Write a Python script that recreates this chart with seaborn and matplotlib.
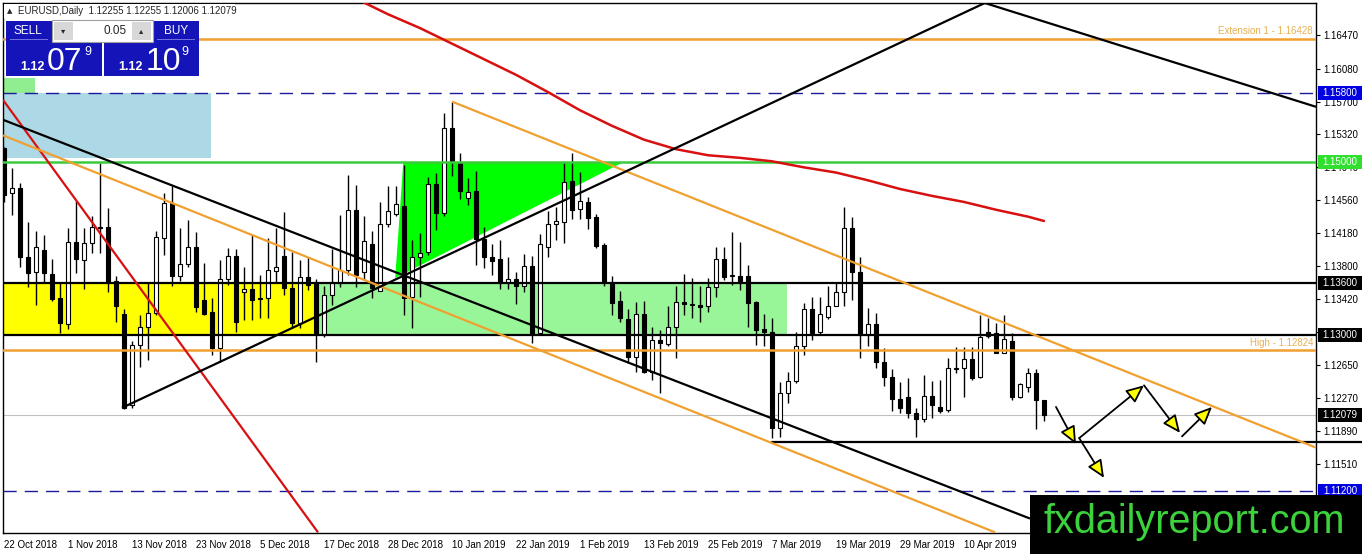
import matplotlib
matplotlib.use("Agg")
import matplotlib.pyplot as plt
from matplotlib.patches import Rectangle, Polygon
from matplotlib import transforms
import seaborn as sns
import pandas as pd

sns.set_style("white")
plt.rcParams['font.family'] = ['Liberation Sans', 'DejaVu Sans']

# --- daily EURUSD candles (22 Oct 2018 .. 24 Apr 2019) ---
opens = [1.1516, 1.1464, 1.1470, 1.1390, 1.1373, 1.1399, 1.1371, 1.1343, 1.1313, 1.1408,
         1.1387, 1.1407, 1.1425, 1.1425, 1.1363, 1.1325, 1.1219, 1.1289, 1.1310, 1.1326,
         1.1412, 1.1453, 1.1368, 1.1382, 1.1402, 1.1341, 1.1327, 1.1285, 1.1365, 1.1392,
         1.1350, 1.1353, 1.1343, 1.1343, 1.1374, 1.1392, 1.1355, 1.1314, 1.1367, 1.1360,
         1.1300, 1.1346, 1.1360, 1.1375, 1.1445, 1.1373, 1.1405, 1.1351, 1.1429, 1.1440,
         1.1449, 1.1344, 1.1390, 1.1396, 1.1475, 1.1441, 1.1540, 1.1500, 1.1459, 1.1467,
         1.1411, 1.1390, 1.1388, 1.1360, 1.1365, 1.1357, 1.1380, 1.1303, 1.1402, 1.1429,
         1.1431, 1.1478, 1.1446, 1.1454, 1.1437, 1.1404, 1.1360, 1.1340, 1.1319, 1.1275,
         1.1325, 1.1257, 1.1294, 1.1290, 1.1310, 1.1338, 1.1335, 1.1335, 1.1334, 1.1356,
         1.1388, 1.1368, 1.1368, 1.1368, 1.1338, 1.1307, 1.1304, 1.1193, 1.1233, 1.1247,
         1.1288, 1.1330, 1.1304, 1.1321, 1.1334, 1.1350, 1.1424, 1.1373, 1.1300, 1.1313,
         1.1269, 1.1252, 1.1226, 1.1228, 1.1210, 1.1203, 1.1230, 1.1217, 1.1213, 1.1261,
         1.1262, 1.1272, 1.1252, 1.1304, 1.1303, 1.1279, 1.1293, 1.1228, 1.1240, 1.1256,
         1.12255]
highs = [1.1518, 1.1493, 1.1476, 1.1431, 1.1420, 1.1416, 1.1388, 1.1360, 1.1424, 1.1455,
         1.1424, 1.1438, 1.1499, 1.1447, 1.1368, 1.1330, 1.1293, 1.1323, 1.1362, 1.1420,
         1.1464, 1.1472, 1.1424, 1.1433, 1.1419, 1.1383, 1.1343, 1.1387, 1.1401, 1.1400,
         1.1379, 1.1416, 1.1370, 1.1412, 1.1424, 1.1442, 1.1396, 1.1387, 1.1390, 1.1365,
         1.1357, 1.1400, 1.1439, 1.1485, 1.1474, 1.1438, 1.1420, 1.1454, 1.1472, 1.1472,
         1.1497, 1.1410, 1.1418, 1.1483, 1.1488, 1.1557, 1.1570, 1.1511, 1.1482, 1.1490,
         1.1425, 1.1405, 1.1410, 1.1390, 1.1373, 1.1394, 1.1392, 1.1417, 1.1444, 1.1448,
         1.1500, 1.1511, 1.1489, 1.1460, 1.1440, 1.1407, 1.1368, 1.1351, 1.1330, 1.1338,
         1.1340, 1.1310, 1.1306, 1.1334, 1.1357, 1.1371, 1.1366, 1.1357, 1.1366, 1.1402,
         1.1402, 1.1419, 1.1408, 1.1381, 1.1340, 1.1325, 1.1320, 1.1246, 1.1257, 1.1304,
         1.1337, 1.1344, 1.1344, 1.1357, 1.1360, 1.1448, 1.1437, 1.1390, 1.1331, 1.1326,
         1.1285, 1.1261, 1.1246, 1.1250, 1.1216, 1.1254, 1.1247, 1.1248, 1.1274, 1.1286,
         1.1286, 1.1286, 1.1323, 1.1320, 1.1314, 1.1323, 1.1303, 1.1245, 1.1262, 1.1261,
         1.12255]
lows = [1.1454, 1.1439, 1.1379, 1.1356, 1.1335, 1.1362, 1.1340, 1.1303, 1.1307, 1.1372,
        1.1353, 1.1395, 1.1395, 1.1350, 1.1315, 1.1215, 1.1216, 1.1263, 1.1271, 1.1323,
        1.1393, 1.1357, 1.1363, 1.1379, 1.1327, 1.1323, 1.1277, 1.1269, 1.1358, 1.1304,
        1.1318, 1.1318, 1.1320, 1.1320, 1.1362, 1.1346, 1.1308, 1.1308, 1.1352, 1.1269,
        1.1298, 1.1335, 1.1356, 1.1370, 1.1356, 1.1364, 1.1343, 1.1351, 1.1425, 1.1438,
        1.1323, 1.1308, 1.1344, 1.1393, 1.1422, 1.1438, 1.1484, 1.1457, 1.1451, 1.1381,
        1.1378, 1.1370, 1.1353, 1.1353, 1.1336, 1.1350, 1.1291, 1.1303, 1.1390, 1.1410,
        1.1407, 1.1434, 1.1434, 1.1423, 1.1401, 1.1357, 1.1323, 1.1315, 1.1268, 1.1257,
        1.1256, 1.1248, 1.1233, 1.1288, 1.1274, 1.1323, 1.1320, 1.1315, 1.1327, 1.1344,
        1.1364, 1.1358, 1.1352, 1.1310, 1.1289, 1.1288, 1.1181, 1.1182, 1.1222, 1.1245,
        1.1277, 1.1294, 1.1300, 1.1319, 1.1334, 1.1334, 1.1341, 1.1274, 1.1288, 1.1262,
        1.1241, 1.1212, 1.1210, 1.1204, 1.1182, 1.1200, 1.1204, 1.1210, 1.1211, 1.1256,
        1.1228, 1.1248, 1.1250, 1.1297, 1.1279, 1.1279, 1.1225, 1.1227, 1.1234, 1.1192,
        1.12006]
closes = [1.1462, 1.1470, 1.1390, 1.1372, 1.1402, 1.1372, 1.1342, 1.1314, 1.1408, 1.1388,
          1.1407, 1.1425, 1.1424, 1.1360, 1.1334, 1.1216, 1.1289, 1.1310, 1.1326, 1.1414,
          1.1453, 1.1368, 1.1382, 1.1402, 1.1333, 1.1325, 1.1285, 1.1365, 1.1392, 1.1315,
          1.1353, 1.1341, 1.1342, 1.1375, 1.1379, 1.1355, 1.1314, 1.1367, 1.1358, 1.1303,
          1.1346, 1.1360, 1.1375, 1.1445, 1.1370, 1.1409, 1.1355, 1.1429, 1.1444, 1.1452,
          1.1343, 1.1390, 1.1395, 1.1475, 1.1441, 1.1540, 1.1500, 1.1467, 1.1466, 1.1411,
          1.1390, 1.1386, 1.1360, 1.1365, 1.1357, 1.1380, 1.1301, 1.1405, 1.1429, 1.1432,
          1.1477, 1.1445, 1.1455, 1.1436, 1.1403, 1.1360, 1.1337, 1.1320, 1.1275, 1.1325,
          1.1257, 1.1294, 1.1291, 1.1310, 1.1338, 1.1336, 1.1336, 1.1333, 1.1356, 1.1388,
          1.1367, 1.1369, 1.1363, 1.1337, 1.1306, 1.1304, 1.1193, 1.1233, 1.1247, 1.1288,
          1.1330, 1.1303, 1.1325, 1.1334, 1.1350, 1.1424, 1.1373, 1.1300, 1.1313, 1.1269,
          1.1252, 1.1226, 1.1216, 1.1210, 1.1203, 1.1230, 1.1219, 1.1212, 1.1262, 1.1262,
          1.1272, 1.1250, 1.1298, 1.1299, 1.1279, 1.1296, 1.1228, 1.1244, 1.1256, 1.1225,
          1.12079]

dates = pd.bdate_range("2018-10-22", "2019-04-24")
dates = dates.drop([pd.Timestamp("2018-12-25"), pd.Timestamp("2019-01-01")])
bars = pd.DataFrame({"date": dates, "open": opens, "high": highs, "low": lows, "close": closes})
bars["idx"] = range(len(bars))

# moving average (red curve), read at selected bars
ma_idx = [44, 48, 52, 56, 60, 64, 68, 72, 76, 80, 84, 88, 92, 96, 100, 104, 108, 112, 116, 120, 124, 128, 130]
ma_val = [1.1689, 1.1671, 1.1655, 1.1637, 1.1619, 1.1601, 1.1581, 1.1560, 1.1542, 1.1526, 1.1515, 1.1508,
          1.1505, 1.1501, 1.1494, 1.1488, 1.1479, 1.1469, 1.1461, 1.1454, 1.1445, 1.1437, 1.1432]

# levels
ext_level = 1.16428
high_level = 1.12824
levels_black = [1.1360, 1.1300]
level_green = 1.1500
levels_navy = [1.1580, 1.1120]
bid = 1.12079
support = 1.1177

# trendlines: (x0, p0, x1, p1) in bar index / price
red_line = (-0.125, 1.1572, 39.25, 1.1072)
black_down = (-0.125, 1.1549, 128.25, 1.1088)
orange_low = (-0.125, 1.1531, 123.9, 1.1072)
orange_up = (56, 1.1570, 164, 1.1170)
black_up = (14.75, 1.1216, 122.6, 1.1684)
black_top = (122.6, 1.1684, 164, 1.1564)

# projected path arrows
arrows = [((131.5, 1.1217), (134.0, 1.1174)),
          ((134.4, 1.1181), (142.5, 1.1242)),
          ((142.5, 1.1242), (147.0, 1.1187)),
          ((147.25, 1.1183), (151.0, 1.1217)),
          ((134.4, 1.1181), (137.5, 1.1135))]

yticks = [1.16470, 1.16080, 1.15700, 1.15320, 1.14940, 1.14560, 1.14180, 1.13800,
          1.13420, 1.13040, 1.12650, 1.12270, 1.11890, 1.11510]

W, H = 1362, 554
fig = plt.figure(figsize=(W / 100, H / 100), dpi=100)
ax = fig.add_axes([3 / W, 21 / H, 1313 / W, 530 / H])
ax.set_xlim(-0.125, 164)
ax.set_ylim(1.10713, 1.16840)

orange = "#F0A030"

# zones
ax.add_patch(Rectangle((-0.125, 1.1505), 26.0, 1.1580 - 1.1505, color="#ADD8E6", zorder=1, lw=0))
ax.add_patch(Rectangle((-0.125, 1.1580), 4.0, 0.0017, color="#90EE90", zorder=1, lw=0))
ax.add_patch(Rectangle((-0.125, 1.1300), 39.4, 0.0060, color="#FFFF00", zorder=1, lw=0))
ax.add_patch(Rectangle((39.25, 1.1300), 58.65, 0.0060, color="#98F598", zorder=1, lw=0))
ax.add_patch(Polygon([(48.9, 1.1366), (49.9, 1.1499), (77.4, 1.1500)], closed=True,
                     color="#00FF00", zorder=1, lw=0))

# horizontal levels
ax.axhline(bid, color="#C0C0C0", lw=0.8, zorder=2)
for lv in levels_black:
    ax.axhline(lv, color="black", lw=1.6, zorder=4)
ax.axhline(level_green, color="#3CCB3C", lw=1.8, zorder=4)
for lv in levels_navy:
    ax.axhline(lv, color="#1A1A9A", lw=1.0, ls=(0, (9.5, 5.8)), zorder=4)
ax.axhline(ext_level, color=orange, lw=1.8, zorder=4)
ax.axhline(high_level, color=orange, lw=1.8, zorder=4)
ax.plot([96, 169.75], [support, support], color="black", lw=1.6, zorder=4, clip_on=False)

# candles
up = bars["close"] >= bars["open"]
ax.vlines(bars["idx"], bars["low"], bars["high"], color="black", lw=1.0, zorder=2.9)
body_lo = bars[["open", "close"]].min(axis=1)
body_h = (bars["close"] - bars["open"]).abs().clip(lower=0.00012)
ax.bar(bars["idx"], body_h, bottom=body_lo, width=0.62,
       color=["white" if u else "black" for u in up], edgecolor="black", lw=0.8, zorder=3)

# moving average
sns.lineplot(x=ma_idx, y=ma_val, ax=ax, color="#D81010", lw=1.8, zorder=4)

# trendlines
for (x0, p0, x1, p1), col in [(red_line, "#D81010"), (black_down, "black"), (orange_low, orange),
                              (orange_up, orange), (black_up, "black"), (black_top, "black")]:
    ax.plot([x0, x1], [p0, p1], color=col, lw=1.6, zorder=4, solid_capstyle="butt")

for start, end in arrows:
    ax.annotate("", xy=end, xytext=start, zorder=6,
                arrowprops=dict(arrowstyle="-|>,head_length=0.9,head_width=0.4", mutation_scale=12,
                                fc="#FFFF00", ec="black", lw=1.3, shrinkA=0, shrinkB=0))

# level captions
cap_t = transforms.blended_transform_factory(ax.transAxes, ax.transData)
ax.text((1313 - 3) / 1313, ext_level + 0.0003, "Extension 1 - 1.16428", transform=cap_t,
        ha="right", va="bottom", fontsize=7, color="#E6B050", zorder=5)
ax.text((1313 - 3) / 1313, high_level + 0.0003, "High - 1.12824", transform=cap_t,
        ha="right", va="bottom", fontsize=7, color="#E6B050", zorder=5)

# axes styling
ax.yaxis.tick_right()
ax.set_yticks(yticks)
ax.set_yticklabels([f"{t:.5f}" for t in yticks])
step = 8
ax.set_xticks(bars["idx"][::step][:16])
ax.set_xticklabels([f"{d.day} {d.strftime('%b %Y')}" for d in bars["date"][::step][:16]])
for lbl in ax.get_xticklabels():
    lbl.set_ha("left")
ax.tick_params(axis="both", direction="out", length=3, width=0.8, labelsize=7, pad=2, colors="black")
ax.set_xlabel("")
ax.set_ylabel("")
for sp in ax.spines.values():
    sp.set_color("black")
    sp.set_linewidth(1.0)
ax.grid(False)

# price boxes at the right
bt = transforms.blended_transform_factory(fig.transFigure, ax.transData)
box_h = 14 / 8650
for price, fc, txt in [(1.1580, "#0000E0", "1.15800"), (1.1500, "#2FE02F", "1.15000"),
                       (1.1360, "black", "1.13600"), (1.1300, "black", "1.13000"),
                       (bid, "black", "1.12079"), (1.1120, "#0000E0", "1.11200")]:
    ax.add_patch(Rectangle((1318 / W, price - box_h / 2), 44 / W, box_h, transform=bt,
                           color=fc, lw=0, clip_on=False, zorder=7))
    ax.text(1340 / W, price, txt, transform=bt, ha="center", va="center", color="white",
            fontsize=7, clip_on=False, zorder=8)


# one-click trading panel and header (figure pixels)
def px_rect(x0, y0, x1, y1, **kw):
    fig.add_artist(Rectangle((x0 / W, 1 - y1 / H), (x1 - x0) / W, (y1 - y0) / H,
                             transform=fig.transFigure, **kw))


def px_text(x, y, s, **kw):
    fig.text(x / W, 1 - y / H, s, **kw)


px_rect(4, 4, 235, 18, color="white", lw=0)
px_text(7, 11, "\u25b2", fontsize=5, va="center", family="DejaVu Sans")
px_text(18, 11, "EURUSD,Daily  1.12255 1.12255 1.12006 1.12079", fontsize=7, va="center")

blue = "#1414B8"
px_rect(6, 21, 52, 42, color=blue, lw=0)
px_rect(6, 42, 102, 76, color=blue, lw=0)
px_rect(153, 21, 199, 42, color=blue, lw=0)
px_rect(104, 42, 199, 76, color=blue, lw=0)
px_rect(10, 39, 48, 40, color="#7070E0", lw=0)
px_rect(157, 39, 195, 40, color="#7070E0", lw=0)
px_rect(52, 20, 153, 42, color="white", ec="#A0A0A0", lw=0.8)
px_rect(54, 22, 73, 40, color="#D8D8D8", lw=0)
px_rect(132, 22, 151, 40, color="#D8D8D8", lw=0)
px_text(63, 31, "\u25be", fontsize=6, ha="center", va="center", family="DejaVu Sans")
px_text(141, 31, "\u25b4", fontsize=6, ha="center", va="center", family="DejaVu Sans")
px_text(127, 31, "0.05", fontsize=8.5, ha="right", va="center")
px_text(28, 31, "SELL", fontsize=8.5, ha="center", va="center", color="white")
px_text(176, 31, "BUY", fontsize=8.5, ha="center", va="center", color="white")
px_text(32, 70, "1.12", fontsize=9, ha="center", va="baseline", color="white", weight="bold")
px_text(64, 70, "07", fontsize=23, ha="center", va="baseline", color="white")
px_text(88, 55, "9", fontsize=9, ha="center", va="baseline", color="white")
px_text(130, 70, "1.12", fontsize=9, ha="center", va="baseline", color="white", weight="bold")
px_text(163, 70, "10", fontsize=23, ha="center", va="baseline", color="white")
px_text(185, 55, "9", fontsize=9, ha="center", va="baseline", color="white")

# watermark
px_rect(1030, 495, 1362, 554, color="black", lw=0, zorder=9)
px_text(1043, 533, "fxdailyreport.com", fontsize=28.5, va="baseline", color="#3CD23C", zorder=10)

fig.savefig("out.png", dpi=100, facecolor="white")
